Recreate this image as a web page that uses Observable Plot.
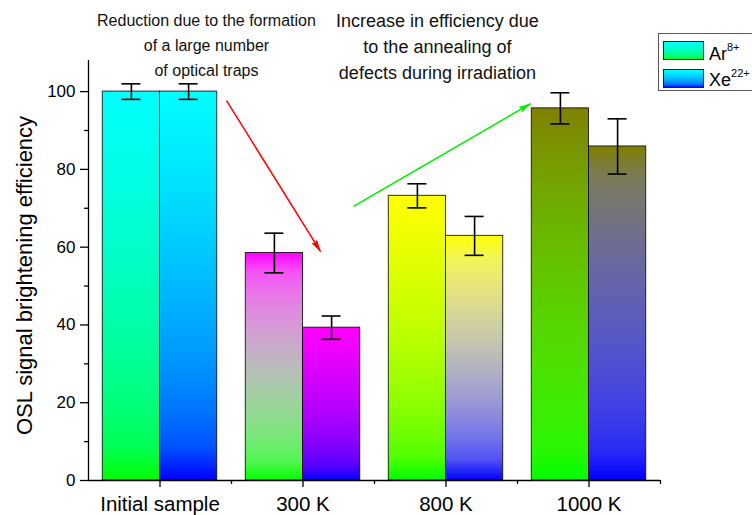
<!DOCTYPE html>
<html><head><meta charset="utf-8">
<script src="https://cdn.jsdelivr.net/npm/d3@7"></script>
<script src="https://cdn.jsdelivr.net/npm/@observablehq/plot@0.6"></script>
<style>
body{margin:0;background:#fff;font-family:"Liberation Sans",Arial,sans-serif;}
#wrap{position:relative;width:752px;height:515px;overflow:hidden}
#legend{position:absolute;left:658px;top:33px;width:100px;height:58px;border:1px solid #555;background:#fff;box-sizing:border-box}
.sw{position:absolute;left:4px;width:41px;height:19px;border:1px solid #222;box-sizing:border-box}
.lt{position:absolute;left:50px;font-size:18px;line-height:18px;color:#000;white-space:nowrap}
.lt sup{font-size:11px;position:relative;top:-3px;vertical-align:top;line-height:11px}
</style></head><body><div id="wrap"></div>
<script>
// ---- data ----
const categories = ["Initial sample", "300 K", "800 K", "1000 K"];
const seriesNames = ["Ar", "Xe"];
const seriesCharges = ["8+", "22+"];
const arValues = [100, 58.5, 73.2, 95.7];
const arErrors = [2.0, 5.1, 3.1, 4.0];
const xeValues = [100, 39.3, 62.9, 85.9];
const xeErrors = [2.0, 3.0, 5.0, 7.1];
const yTicks = [0, 20, 40, 60, 80, 100];
const yMinorTicks = [10, 30, 50, 70, 90];
const yLabel = "OSL signal brightening efficiency";
const annotations = [
  {x: 0.325, y: 112.4, text: "Reduction due to the formation\nof a large number\nof optical traps"},
  {x: 1.94, y: 112.1, text: "Increase in efficiency due\nto the annealing of\ndefects during irradiation"}
];
const arrows = [
  {x1: 0.465, y1: 97.7, x2: 1.122, y2: 58.9},
  {x1: 1.353, y1: 70.5, x2: 2.591, y2: 96.9}
];

// ---- styles ----
const topColors = ["#00ffff", "#ff00ff", "#ffff00", "#808000"];
const bottomColors = ["#00ff00", "#0000ff"];
const legendTop = "#00ffff";
const arrowColors = ["#ff0000", "#00ee00"];
const font = '"Liberation Sans", Arial, sans-serif';
const half = 0.4;

function gradStops(top, bottom, n = 12) {
  const f = d3.interpolateRgb.gamma(2.2)(top, bottom);
  return d3.range(n + 1).map(k => ({offset: k / n, color: f(k / n)}));
}

const bars = [];
categories.forEach((c, i) => {
  [arValues, xeValues].forEach((vals, s) => {
    const errs = s === 0 ? arErrors : xeErrors;
    bars.push({category: c, i, s, value: vals[i], error: errs[i], grad: `g${i}_${s}`});
  });
});
const x1 = d => d.i + (d.s === 0 ? -half : 0);
const x2 = d => d.i + (d.s === 0 ? 0 : half);
const xc = d => d.i + (d.s === 0 ? -half / 2 : half / 2);

const svg = Plot.plot({
  width: 752, height: 515,
  marginLeft: 88, marginRight: 92, marginTop: 60, marginBottom: 35,
  style: {fontFamily: font, color: "#000", background: "transparent", overflow: "visible"},
  x: {domain: [-0.5, 3.5], axis: null},
  y: {domain: [0, 108], axis: null},
  color: {type: "identity"},
  marks: [
    Plot.rectY(bars, {x1, x2, y1: 0, y2: "value", fill: d => `url(#${d.grad})`, stroke: "#000", strokeOpacity: 0.8, strokeWidth: 1}),
    Plot.ruleX(bars, {x: xc, y1: d => d.value - d.error, y2: d => d.value + d.error, stroke: "#000", strokeWidth: 1.6}),
    Plot.ruleY(bars, {y: d => d.value + d.error, x1: xc, x2: xc, insetLeft: -9.5, insetRight: -9.5, stroke: "#000", strokeWidth: 1.6}),
    Plot.ruleY(bars, {y: d => d.value - d.error, x1: xc, x2: xc, insetLeft: -9.5, insetRight: -9.5, stroke: "#000", strokeWidth: 1.6}),
    Plot.ruleX([-0.5], {stroke: "#000", strokeWidth: 1.3}),
    Plot.ruleY([0], {stroke: "#000", strokeWidth: 1.3}),
    Plot.axisY(yTicks, {anchor: "left", tickSize: 8, tickPadding: 5, fontSize: 17, label: null, strokeWidth: 1.3}),
    Plot.axisY(yMinorTicks, {anchor: "left", tickSize: 4, tickFormat: () => "", label: null, strokeWidth: 1.3}),
    Plot.axisX(categories.map((_, i) => i), {anchor: "bottom", tickSize: 7, tickPadding: 9, tickFormat: i => categories[i], fontSize: 20.5, label: null, strokeWidth: 1.3}),
    Plot.axisX(categories.map((_, i) => i + 0.5), {anchor: "bottom", tickSize: 4, tickFormat: () => "", label: null, strokeWidth: 1.3}),
    Plot.text([yLabel], {text: d => d, frameAnchor: "left", rotate: -90, dx: -64, dy: 5, fontSize: 22, textAnchor: "middle", lineAnchor: "middle"}),
    Plot.text([annotations[0]], {x: "x", y: "y", text: "text", fontSize: 16, lineHeight: 1.56, lineAnchor: "middle", fill: "#111"}),
    Plot.text([annotations[1]], {x: "x", y: "y", text: "text", fontSize: 18, lineHeight: 1.45, lineAnchor: "middle", fill: "#111"}),
    Plot.link([arrows[0]], {x1: "x1", y1: "y1", x2: "x2", y2: "y2", stroke: arrowColors[0], strokeWidth: 1.5}),
    Plot.link([arrows[1]], {x1: "x1", y1: "y1", x2: "x2", y2: "y2", stroke: arrowColors[1], strokeWidth: 1.5})
  ]
});

const sel = d3.select(svg);
const defs = sel.insert("defs", ":first-child");
bars.forEach(d => {
  const g = defs.append("linearGradient").attr("id", d.grad).attr("x1", 0).attr("y1", 0).attr("x2", 0).attr("y2", 1);
  gradStops(topColors[d.i], bottomColors[d.s]).forEach(st => g.append("stop").attr("offset", st.offset).attr("stop-color", st.color));
});
arrowColors.forEach((c, k) => {
  defs.append("marker").attr("id", "ah" + k).attr("markerUnits", "userSpaceOnUse")
    .attr("markerWidth", 13).attr("markerHeight", 8).attr("viewBox", "0 0 13 8")
    .attr("refX", 12).attr("refY", 4).attr("orient", "auto")
    .append("path").attr("d", "M0,0.8L13,4L0,7.2L2,4Z").attr("fill", c);
});
sel.selectAll('g[aria-label="link"]').each(function(_, k) {
  d3.select(this).selectAll("path").attr("marker-end", `url(#ah${k})`);
});

const wrap = document.getElementById("wrap");
wrap.appendChild(svg);

// legend
const lg = document.createElement("div");
lg.id = "legend";
seriesNames.forEach((name, s) => {
  const st = gradStops(legendTop, bottomColors[s]).map(o => `${o.color} ${(o.offset * 100).toFixed(1)}%`).join(",");
  const sw = document.createElement("div");
  sw.className = "sw";
  sw.style.top = (7 + s * 28) + "px";
  sw.style.background = `linear-gradient(to bottom, ${st})`;
  lg.appendChild(sw);
  const t = document.createElement("div");
  t.className = "lt";
  t.style.top = (11 + s * 26) + "px";
  t.innerHTML = `${name}<sup>${seriesCharges[s]}</sup>`;
  lg.appendChild(t);
});
wrap.appendChild(lg);
</script>
</body></html>
